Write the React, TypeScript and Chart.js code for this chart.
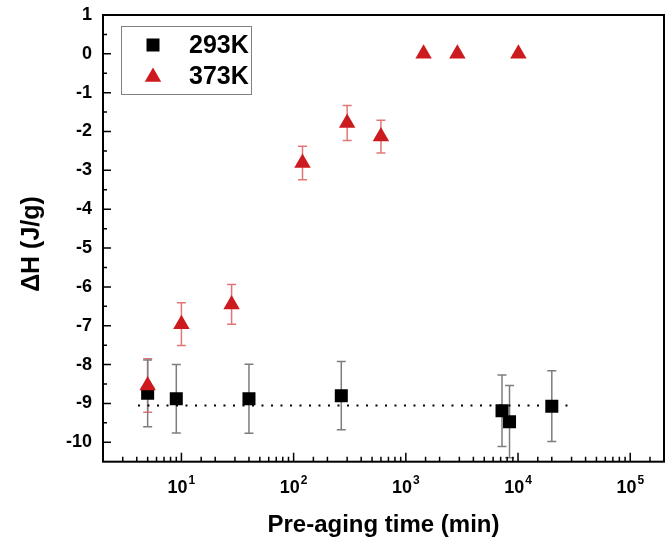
import React, { useEffect, useRef } from 'react';
import { Chart, registerables } from 'chart.js';

Chart.register(...registerables);

// ---- data ----
const seriesLabels = ['293K', '373K'];
const time293 = [5, 9, 40, 266, 7200, 8400, 20000];
const dh293 = [-8.74, -8.88, -8.88, -8.8, -9.19, -9.47, -9.07];
const err293 = [0.86, 0.88, 0.89, 0.88, 0.92, 0.93, 0.91];
const time373 = [5, 10, 28, 120, 300, 600, 1440, 2880, 10080];
const dh373 = [-8.54, -6.96, -6.45, -2.81, -1.78, -2.13, 0, 0, 0];
const err373 = [0.69, 0.55, 0.51, 0.43, 0.45, 0.42, 0, 0, 0];
const avgLineTime = [4.1, 32000];
const avgLineDH = [-9.05, -9.05];
const xMajorValues = [10, 100, 1000, 10000, 100000];
const xMajorBase = '10';
const xMajorExponents = ['1', '2', '3', '4', '5'];
const xTitle = 'Pre-aging time (min)';
const yTitle = '\u0394H (J/g)';

const RED = 'rgb(204,26,30)';
const RED_ERR = 'rgba(214,60,60,0.7)';
const GRAY_ERR = 'rgb(125,125,125)';
const FONT = "'Liberation Sans', Arial, sans-serif";

const errorBarPlugin = {
  id: 'errorBars',
  beforeDatasetsDraw(chart: any) {
    const { ctx } = chart;
    const xs = chart.scales.x;
    const ys = chart.scales.y;
    chart.data.datasets.forEach((ds: any) => {
      if (!ds.errors) return;
      ctx.save();
      ctx.strokeStyle = ds.errorColor;
      ctx.lineWidth = 1.5;
      ds.data.forEach((p: any, i: number) => {
        const e = ds.errors[i];
        if (!e) return;
        const px = xs.getPixelForValue(p.x);
        const top = ys.getPixelForValue(p.y + e);
        const bot = Math.min(ys.getPixelForValue(p.y - e), chart.chartArea.bottom);
        ctx.beginPath();
        ctx.moveTo(px, top);
        ctx.lineTo(px, bot);
        ctx.moveTo(px - 4.5, top);
        ctx.lineTo(px + 4.5, top);
        if (bot < chart.chartArea.bottom - 1) {
          ctx.moveTo(px - 4.5, bot);
          ctx.lineTo(px + 4.5, bot);
        }
        ctx.stroke();
      });
      ctx.restore();
    });
  },
};

const framePlugin = {
  id: 'frame',
  afterDraw(chart: any) {
    const { ctx, chartArea: a } = chart;
    const xs = chart.scales.x;
    const ys = chart.scales.y;
    ctx.save();
    ctx.strokeStyle = '#000';
    ctx.lineWidth = 2;
    ctx.strokeRect(a.left, a.top, a.right - a.left, a.bottom - a.top);
    ctx.lineWidth = 1.5;
    ctx.beginPath();
    xs.ticks.forEach((t: any) => {
      const px = xs.getPixelForValue(t.value);
      if (px <= a.left + 1 || px >= a.right - 1) return;
      const lg = Math.log10(t.value);
      const major = Math.abs(lg - Math.round(lg)) < 1e-6;
      const len = major ? 9 : 5;
      ctx.moveTo(px, a.bottom);
      ctx.lineTo(px, a.bottom - len);
    });
    ys.ticks.forEach((t: any) => {
      const py = ys.getPixelForValue(t.value);
      if (py <= a.top + 1 || py >= a.bottom - 1) return;
      const major = Math.abs(t.value - Math.round(t.value)) < 1e-6;
      const len = major ? 8 : 4;
      ctx.moveTo(a.left, py);
      ctx.lineTo(a.left + len, py);
    });
    ctx.stroke();

    // x tick labels with superscript exponents
    ctx.fillStyle = '#000';
    ctx.textBaseline = 'alphabetic';
    ctx.textAlign = 'left';
    xMajorValues.forEach((v, i) => {
      const px = xs.getPixelForValue(v);
      ctx.font = `bold 18px ${FONT}`;
      const wb = ctx.measureText(xMajorBase).width;
      ctx.font = `bold 12px ${FONT}`;
      const we = ctx.measureText(xMajorExponents[i]).width;
      const start = px - (wb + we + 1) / 2;
      ctx.font = `bold 18px ${FONT}`;
      ctx.fillText(xMajorBase, start, a.bottom + 31.5);
      ctx.font = `bold 12px ${FONT}`;
      ctx.fillText(xMajorExponents[i], start + wb + 1, a.bottom + 22);
    });

    // y title
    ctx.save();
    ctx.translate(32, 244);
    ctx.rotate(-Math.PI / 2);
    ctx.font = `bold 25px ${FONT}`;
    ctx.fillStyle = '#000';
    ctx.textAlign = 'center';
    ctx.textBaseline = 'middle';
    ctx.fillText(yTitle, 0, 0);
    ctx.restore();

    // legend
    const lx = 121, ly = 26, lw = 130, lh = 68;
    ctx.lineWidth = 1;
    ctx.strokeStyle = '#808080';
    ctx.strokeRect(lx + 0.5, ly + 0.5, lw, lh);
    ctx.fillStyle = '#000';
    ctx.fillRect(153 - 6.5, 45 - 6.5, 13, 13);
    ctx.fillStyle = RED;
    const r = 9.5;
    const tx = 153, ty = 77;
    ctx.beginPath();
    ctx.moveTo(tx, ty - r);
    ctx.lineTo(tx + r * Math.sin((2 * Math.PI) / 3), ty + r / 2);
    ctx.lineTo(tx - r * Math.sin((2 * Math.PI) / 3), ty + r / 2);
    ctx.closePath();
    ctx.fill();
    ctx.fillStyle = '#000';
    ctx.font = `bold 25px ${FONT}`;
    ctx.textAlign = 'left';
    ctx.textBaseline = 'middle';
    ctx.fillText(seriesLabels[0], 189, 46);
    ctx.fillText(seriesLabels[1], 189, 77);
    ctx.restore();
  },
};

export default function App() {
  const ref = useRef<HTMLCanvasElement | null>(null);
  useEffect(() => {
    if (!ref.current) return;
    const chart = new Chart(ref.current, {
      type: 'scatter',
      data: {
        datasets: [
          {
            label: seriesLabels[1],
            data: time373.map((x, i) => ({ x, y: dh373[i] })),
            errors: err373,
            errorColor: RED_ERR,
            pointStyle: 'triangle',
            pointRadius: 9.5,
            pointHoverRadius: 9.5,
            backgroundColor: RED,
            borderColor: RED,
            pointBorderWidth: 0,
            order: 0,
          } as any,
          {
            label: seriesLabels[0],
            data: time293.map((x, i) => ({ x, y: dh293[i] })),
            errors: err293,
            errorColor: GRAY_ERR,
            pointStyle: 'rect',
            pointRadius: 9.2,
            pointHoverRadius: 9.2,
            backgroundColor: '#000',
            borderColor: '#000',
            pointBorderWidth: 0,
            order: 1,
          } as any,
          {
            type: 'line',
            label: 'avg',
            data: avgLineTime.map((x, i) => ({ x, y: avgLineDH[i] })),
            borderColor: '#000',
            borderWidth: 2,
            borderDash: [2, 7.5],
            borderCapStyle: 'butt',
            pointRadius: 0,
            showLine: true,
            fill: false,
            order: 2,
          } as any,
        ],
      },
      options: {
        animation: false,
        responsive: false,
        maintainAspectRatio: false,
        layout: { autoPadding: false, padding: { top: 15, right: 8, left: 0, bottom: 0 } },
        plugins: { legend: { display: false }, tooltip: { enabled: false } },
        scales: {
          x: {
            type: 'logarithmic',
            min: 2,
            max: 200000,
            grid: { display: false, drawTicks: false },
            border: { display: false },
            ticks: {
              autoSkip: false,
              maxRotation: 0,
              padding: 14,
              color: '#000',
              font: { family: FONT, size: 18, weight: 'bold' },
              callback: () => '',
            },
            title: {
              display: true,
              text: xTitle,
              color: '#000',
              font: { family: FONT, size: 24, weight: 'bold' },
              padding: { top: 0, bottom: 3 },
            },
            afterFit: (s: any) => {
              s.height = 81.3;
              s.paddingLeft = 0;
              s.paddingRight = 0;
            },
          },
          y: {
            min: -10.5,
            max: 1,
            grid: { display: false, drawTicks: false },
            border: { display: false },
            ticks: {
              stepSize: 0.5,
              autoSkip: false,
              padding: 11,
              color: '#000',
              font: { family: FONT, size: 18, weight: 'bold' },
              callback: (v: any) => (Number.isInteger(Number(v)) ? String(v) : ''),
            },
            afterFit: (s: any) => {
              s.width = 103;
              s.paddingTop = 0;
              s.paddingBottom = 0;
            },
          },
        },
      } as any,
      plugins: [errorBarPlugin, framePlugin],
    });
    return () => chart.destroy();
  }, []);
  return (
    <div style={{ position: 'fixed', left: 0, top: 0, width: 672, height: 543, background: '#fff' }}>
      <canvas ref={ref} width={672} height={543} />
    </div>
  );
}
